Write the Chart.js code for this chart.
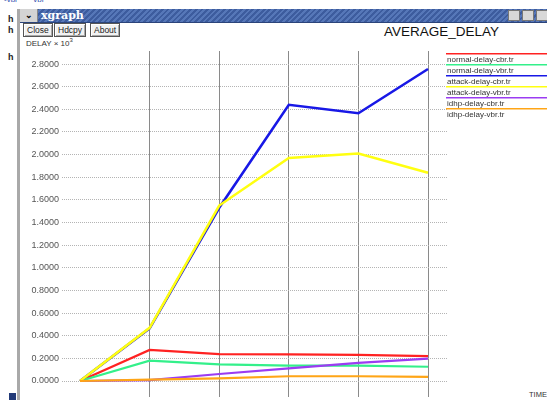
<!DOCTYPE html>
<html>
<head>
<meta charset="utf-8">
<script src="https://cdn.jsdelivr.net/npm/chart.js@4"></script>
<style>
  html, body { margin: 0; padding: 0; }
  body { width: 547px; height: 400px; overflow: hidden; position: relative; background: #fff; font-family: "Liberation Sans", Arial, sans-serif; }
  .bg-txt { position: absolute; font-size: 9px; color: #222; font-weight: bold; }
  .win { position: absolute; left: 17px; top: 9px; right: 0; bottom: 0; border-left: 3px solid #a9a9a9; background: #fff; }
  .titlebar { position: absolute; left: 0; top: 0; right: 0; height: 13px;
    background: repeating-linear-gradient(135deg, #3d5c9e 0 2px, #5677b8 2px 4px); border-bottom: 1px solid #2b447a; }
  .menu-btn { position: absolute; left: 0; top: 0; width: 17px; height: 13px; background: #d4d4d4; border-right: 1px solid #888; font-size: 9px; text-align: center; line-height: 12px; font-weight: bold; }
  .wtitle { position: absolute; left: 21px; top: 0; color: #fff; font: bold 11px "DejaVu Serif", serif; line-height: 13px; }
  .wbtn { position: absolute; top: 1px; width: 12px; height: 11px; background: #d8d8d8; border: 1px solid #777; box-sizing: border-box; }
  .btn { position: absolute; top: 14px; height: 14px; border: 1px solid #555; box-shadow: inset 1px 1px #fff, inset -1px -1px #aaa; background: #f2f2f2; font-size: 8.5px; line-height: 13px; padding: 0 3px; box-sizing: border-box; color: #222; }
  #chart1 { position: absolute; left: 0; top: 0; }
</style>
</head>
<body>
<div class="bg-txt" style="left:4px;top:-5px;color:#3050b0;font-weight:normal;font-size:8px">-vbr&nbsp;&nbsp;&nbsp;&nbsp;&nbsp;&nbsp;&nbsp;vbr</div>
<div class="bg-txt" style="left:8px;top:14px">h</div>
<div class="bg-txt" style="left:8px;top:25px">h</div>
<div class="bg-txt" style="left:8px;top:52px">h</div>
<div style="position:absolute;left:9px;top:393px;width:7px;height:7px;background:#223a78"></div>
<div class="win">
  <div class="titlebar">
    <div class="menu-btn">&#8964;</div>
    <div class="wtitle">xgraph</div>
    <div class="wbtn" style="right:27px"></div>
    <div class="wbtn" style="right:13px"></div>
    <div class="wbtn" style="right:-1px"></div>
  </div>
  <div class="btn" style="left:3px">Close</div>
  <div class="btn" style="left:34px">Hdcpy</div>
  <div class="btn" style="left:70px">About</div>
  <div style="position:absolute;left:6px;top:28px;font-size:8px;color:#333">DELAY &times; 10<sup style="font-size:6px">3</sup></div>
  <div style="position:absolute;left:364px;top:15px;font-size:13.5px;color:#111">AVERAGE_DELAY</div>
  <div style="position:absolute;left:509px;top:381px;font-size:7.5px;color:#333">TIME</div>
</div>
<canvas id="chart1" width="547" height="420"></canvas>
<script>
// x values (time) and series, delay in units of 10^3
let times = [0, 10, 20, 30, 40, 50];
let yTicks = [0, 0.2, 0.4, 0.6, 0.8, 1.0, 1.2, 1.4, 1.6, 1.8, 2.0, 2.2, 2.4, 2.6, 2.8];
let seriesNames = ['normal-delay-cbr.tr', 'normal-delay-vbr.tr', 'attack-delay-cbr.tr', 'attack-delay-vbr.tr', 'idhp-delay-cbr.tr', 'idhp-delay-vbr.tr'];

let normalCbr = [0, 0.274, 0.238, 0.236, 0.230, 0.220];
let normalVbr = [0, 0.180, 0.147, 0.135, 0.135, 0.126];
let attackCbr = [0, 0.465, 1.53, 2.44, 2.365, 2.756];
let attackVbr = [0, 0.470, 1.55, 1.97, 2.010, 1.840];
let idhpCbr = [0, 0.008, 0.062, 0.112, 0.160, 0.197];
let idhpVbr = [0, 0.012, 0.024, 0.042, 0.042, 0.036];

let lineColor = ['#ff2222', '#33f08a', '#1818e6', '#ffff10', '#9b3cf2', '#ffa516'];

function pts(vals) {
    return vals.map((v, i) => ({ x: times[i], y: v }));
}

const allSeries = [normalCbr, normalVbr, attackCbr, attackVbr, idhpCbr, idhpVbr];

// xgraph style legend: coloured rule above each file name
const sideLegend = {
    id: 'sideLegend',
    afterDraw(chart) {
        const ctx = chart.ctx;
        ctx.save();
        seriesNames.forEach((name, i) => {
            const y = 53 + i * 11;
            ctx.fillStyle = lineColor[i];
            ctx.fillRect(446, y, 101, 1.5);
            ctx.fillStyle = '#333';
            ctx.font = '8px "Liberation Sans", Arial, sans-serif';
            ctx.textBaseline = 'alphabetic';
            ctx.fillText(name, 447, y + 8.5);
        });
        ctx.restore();
    }
};

new Chart(document.getElementById('chart1').getContext('2d'), {
    type: 'line',
    data: {
        datasets: allSeries.map((vals, i) => ({
            label: seriesNames[i],
            data: pts(vals),
            borderColor: lineColor[i],
            backgroundColor: lineColor[i],
            borderWidth: (i === 2 || i === 3) ? 2.6 : 2.2,
            pointRadius: 0,
            tension: 0,
            order: allSeries.length - i
        }))
    },
    options: {
        responsive: false,
        animation: false,
        layout: { padding: { left: 0, top: 51, right: 100, bottom: 3 } },
        scales: {
            x: {
                type: 'linear',
                min: -2.59,
                max: 52.73,
                afterBuildTicks: (s) => { s.ticks = times.map(v => ({ value: v })); },
                afterFit: (s) => { s.height = 20; },
                grid: {
                    color: (c) => c.tick && c.tick.value === 0 ? 'rgba(0,0,0,0)' : '#8a8a8a',
                    lineWidth: 1,
                    drawTicks: false
                },
                border: { display: false },
                ticks: {
                    color: '#888',
                    font: { size: 8 },
                    padding: 2,
                    maxRotation: 0,
                    callback: (v) => v.toFixed(4)
                }
            },
            y: {
                min: -0.1413,
                max: 2.915,
                afterBuildTicks: (s) => { s.ticks = yTicks.map(v => ({ value: v })); },
                afterFit: (s) => { s.width = 62; },
                grid: {
                    color: '#b4b4b4',
                    lineWidth: 1,
                    drawTicks: false
                },
                border: { display: false, dash: [1, 1] },
                ticks: {
                    color: '#555',
                    font: { size: 9 },
                    padding: 3,
                    callback: (v) => v.toFixed(4)
                }
            }
        },
        plugins: {
            legend: { display: false },
            tooltip: { enabled: false }
        }
    },
    plugins: [sideLegend]
});
</script>
</body>
</html>
